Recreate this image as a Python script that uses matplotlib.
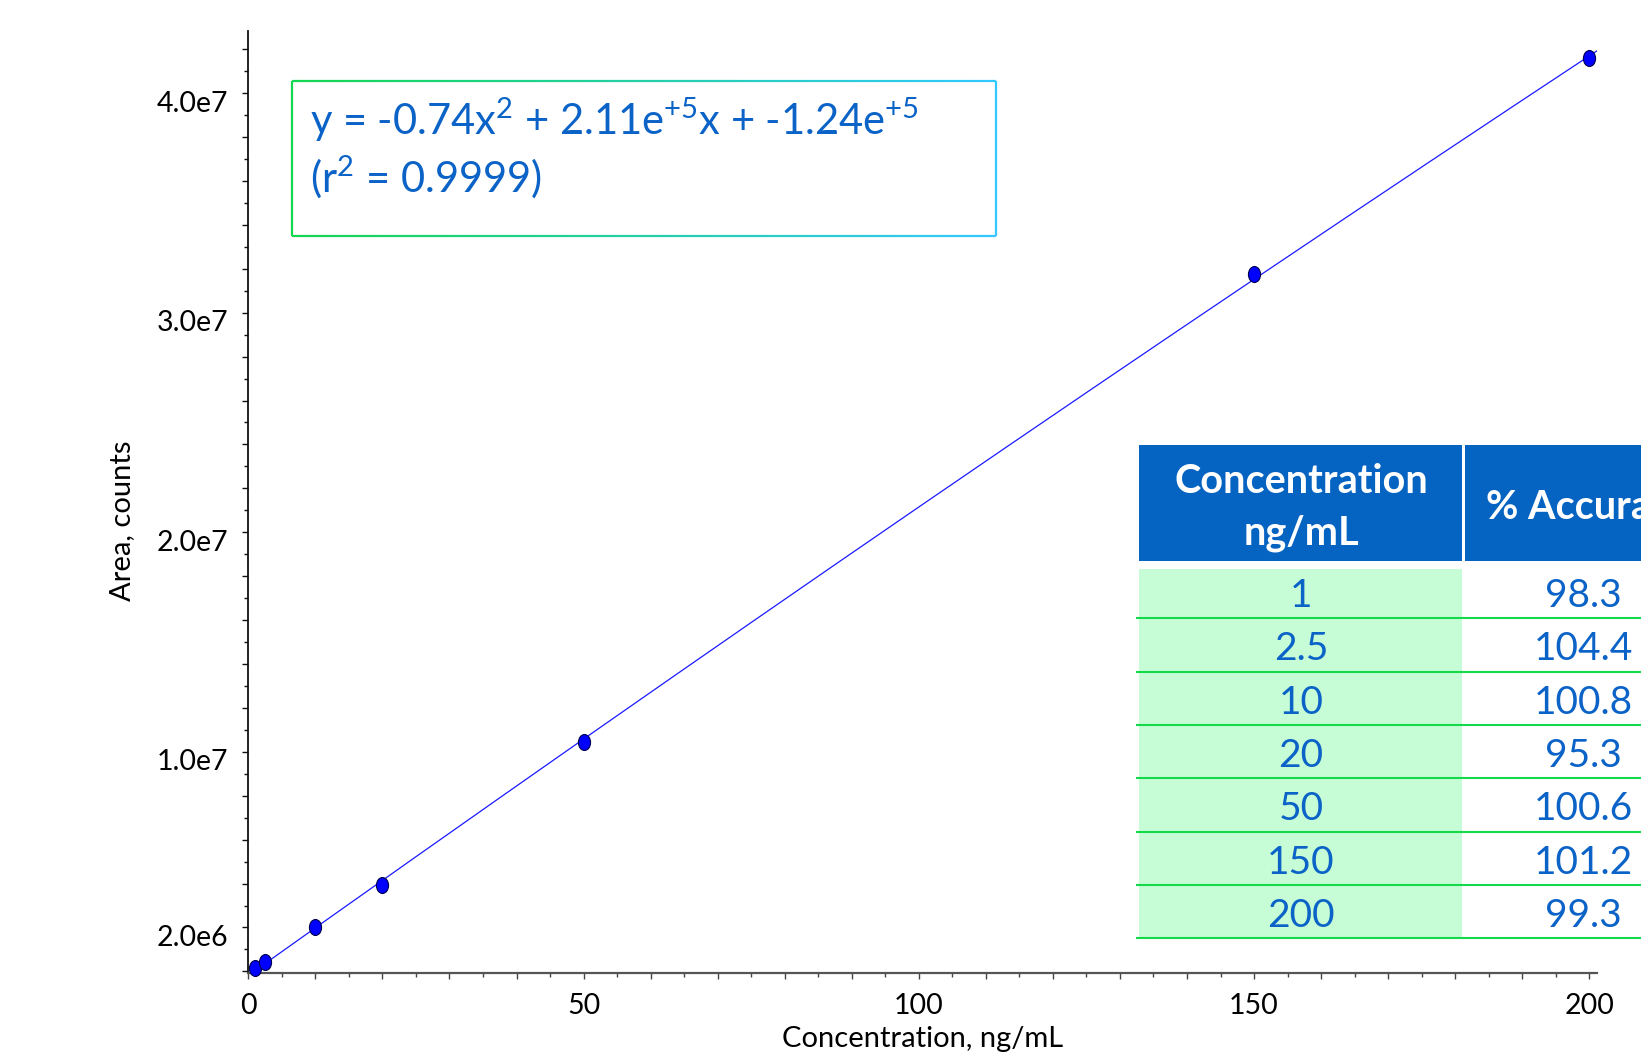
import numpy as np
import matplotlib
matplotlib.use('Agg')
import matplotlib.pyplot as plt
import matplotlib.transforms as mtransforms
from matplotlib.path import Path
from matplotlib.patches import Rectangle
from matplotlib.collections import LineCollection
from matplotlib.ticker import MultipleLocator, FuncFormatter
from matplotlib.colors import to_rgb

plt.rcParams['font.family'] = ['Lato', 'DejaVu Sans']
plt.rcParams['mathtext.default'] = 'regular'

# calibration points
conc = [1, 2.5, 10, 20, 50, 150, 200]
area = [0.155e6, 0.44e6, 2.03e6, 3.92e6, 10.44e6, 31.75e6, 41.58e6]

# accuracy table
table_conc = ['1', '2.5', '10', '20', '50', '150', '200']
table_acc = ['98.3', '104.4', '100.8', '95.3', '100.6', '101.2', '99.3']
table_header = ['Concentration\nng/mL', '% Accuracy']

ytick_text = {2e6: '2.0e6', 1e7: '1.0e7', 2e7: '2.0e7', 3e7: '3.0e7', 4e7: '4.0e7'}

eq_line1 = 'y = -0.74x$^{2}$ + 2.11e$^{+5}$x + -1.24e$^{+5}$'
eq_line2 = '(r$^{2}$ = 0.9999)'

W, H = 1641, 1053
BLUE_TXT = '#0b63c7'
HEAD_BLUE = '#0563c1'
GREEN_FILL = '#c6fdd6'
GREEN_LINE = '#14d94a'


def fx(x):
    return x / W


def fy(y):
    return 1 - y / H


fig = plt.figure(figsize=(W / 100, H / 100), dpi=100)
ax = fig.add_axes([fx(248.3), fy(972.7), (1596.7 - 248.3) / W, (972.7 - 31) / H])

# quadratic fit through the points
coef = np.polyfit(conc, area, 2)
xfit = np.linspace(0, 201.1, 400)
ax.plot(xfit, np.polyval(coef, xfit), color='#1a1aff', lw=0.9)

circle = Path.unit_circle()
ellipse = Path(circle.vertices * [0.76, 1.0], circle.codes)
ax.plot(conc, area, ls='none', marker=ellipse, ms=11.5, mfc='#0000ff',
        mec='#00004d', mew=0.8, zorder=3, clip_on=False)

ax.set_xlim(0, 201.1)
ax.set_ylim(-0.06e6, 42.83e6)

ax.spines[['top', 'right']].set_visible(False)
ax.spines['left'].set_color('#111111')
ax.spines['left'].set_linewidth(1.3)
ax.spines['bottom'].set_color('#555555')
ax.spines['bottom'].set_linewidth(1.6)

ax.xaxis.set_major_locator(MultipleLocator(10))
ax.xaxis.set_minor_locator(MultipleLocator(5))
ax.xaxis.set_major_formatter(FuncFormatter(lambda v, p: f'{v:g}' if abs(v % 50) < 1e-9 else ''))
ax.yaxis.set_major_locator(MultipleLocator(2e6))
ax.yaxis.set_minor_locator(MultipleLocator(1e6))


def yfmt(v, p):
    for k, s in ytick_text.items():
        if abs(v - k) < 1:
            return s
    return ''


ax.yaxis.set_major_formatter(FuncFormatter(yfmt))

ax.tick_params(axis='x', which='major', length=4.3, width=1.0, color='#444444', labelsize=20.5, pad=10.5)
ax.tick_params(axis='x', which='minor', length=2.9, width=1.0, color='#444444')
ax.tick_params(axis='y', which='major', length=4.3, width=1.0, color='#111111', labelsize=20.5, pad=10)
ax.tick_params(axis='y', which='minor', length=2.9, width=1.0, color='#111111')

# tick labels on the y axis sit a bit below their ticks
shift = mtransforms.ScaledTranslation(0, -8 / 100, fig.dpi_scale_trans)
for t in ax.yaxis.get_major_ticks():
    t.label1.set_transform(t.label1.get_transform() + shift)

ax.set_xlabel('Concentration, ng/mL', fontsize=21)
ax.xaxis.set_label_coords(0.5, -0.0565)
ax.set_ylabel('Area, counts', fontsize=21)
ax.yaxis.set_label_coords(-0.084, 0.4797)

# equation box with green->cyan border
bx0, bx1, by0, by1 = 291.7, 996, 80.7, 236
c0, c1 = np.array(to_rgb('#14d750')), np.array(to_rgb('#33c8ff'))
n = 60
xs = np.linspace(bx0, bx1, n + 1)
segs, cols = [], []
for i in range(n):
    c = c0 + (c1 - c0) * (i + 0.5) / n
    for yy in (by0, by1):
        segs.append([(fx(xs[i]), fy(yy)), (fx(xs[i + 1]), fy(yy))])
        cols.append(c)
segs.append([(fx(bx0), fy(by0)), (fx(bx0), fy(by1))])
cols.append(c0)
segs.append([(fx(bx1), fy(by0)), (fx(bx1), fy(by1))])
cols.append(c1)
fig.add_artist(LineCollection(segs, colors=cols, linewidths=1.6, transform=fig.transFigure))

fig.text(fx(310), fy(135), eq_line1, fontsize=30, color=BLUE_TXT, va='baseline', ha='left')
fig.text(fx(310), fy(192), eq_line2, fontsize=30, color=BLUE_TXT, va='baseline', ha='left')

# table
col_x = [(1139, 1462), (1465, 1720)]
col_c = [1301, 1588]
for (x0, x1) in col_x:
    fig.add_artist(Rectangle((fx(x0), fy(561)), (x1 - x0) / W, (561 - 445) / H,
                             transform=fig.transFigure, facecolor=HEAD_BLUE, edgecolor='none'))
head1 = table_header[0].split('\n')
fig.text(fx(col_c[0]), fy(493), head1[0], fontsize=28.5, fontweight='bold', color='white', ha='center', va='baseline')
fig.text(fx(col_c[0]), fy(545), head1[1], fontsize=28.5, fontweight='bold', color='white', ha='center', va='baseline')
fig.text(fx(col_c[1]), fy(519), table_header[1], fontsize=28.5, fontweight='bold', color='white', ha='center', va='baseline')

row_h = 53.3
body_top = 565
fig.add_artist(Rectangle((fx(1139), fy(body_top + row_h * len(table_conc))), (1462 - 1139) / W,
                         (row_h * len(table_conc) - 4) / H, transform=fig.transFigure,
                         facecolor=GREEN_FILL, edgecolor='none'))
for i, (c, a) in enumerate(zip(table_conc, table_acc)):
    yline = body_top + row_h * (i + 1)
    fig.add_artist(plt.Line2D([fx(1137), fx(1720)], [fy(yline), fy(yline)], transform=fig.transFigure,
                              color=GREEN_LINE, lw=1.5))
    base = 607 + row_h * i
    fig.text(fx(col_c[0]), fy(base), c, fontsize=28, color=BLUE_TXT, ha='center', va='baseline')
    fig.text(fx(1583), fy(base), a, fontsize=28, color=BLUE_TXT, ha='center', va='baseline')

fig.savefig('out.png', dpi=100)
